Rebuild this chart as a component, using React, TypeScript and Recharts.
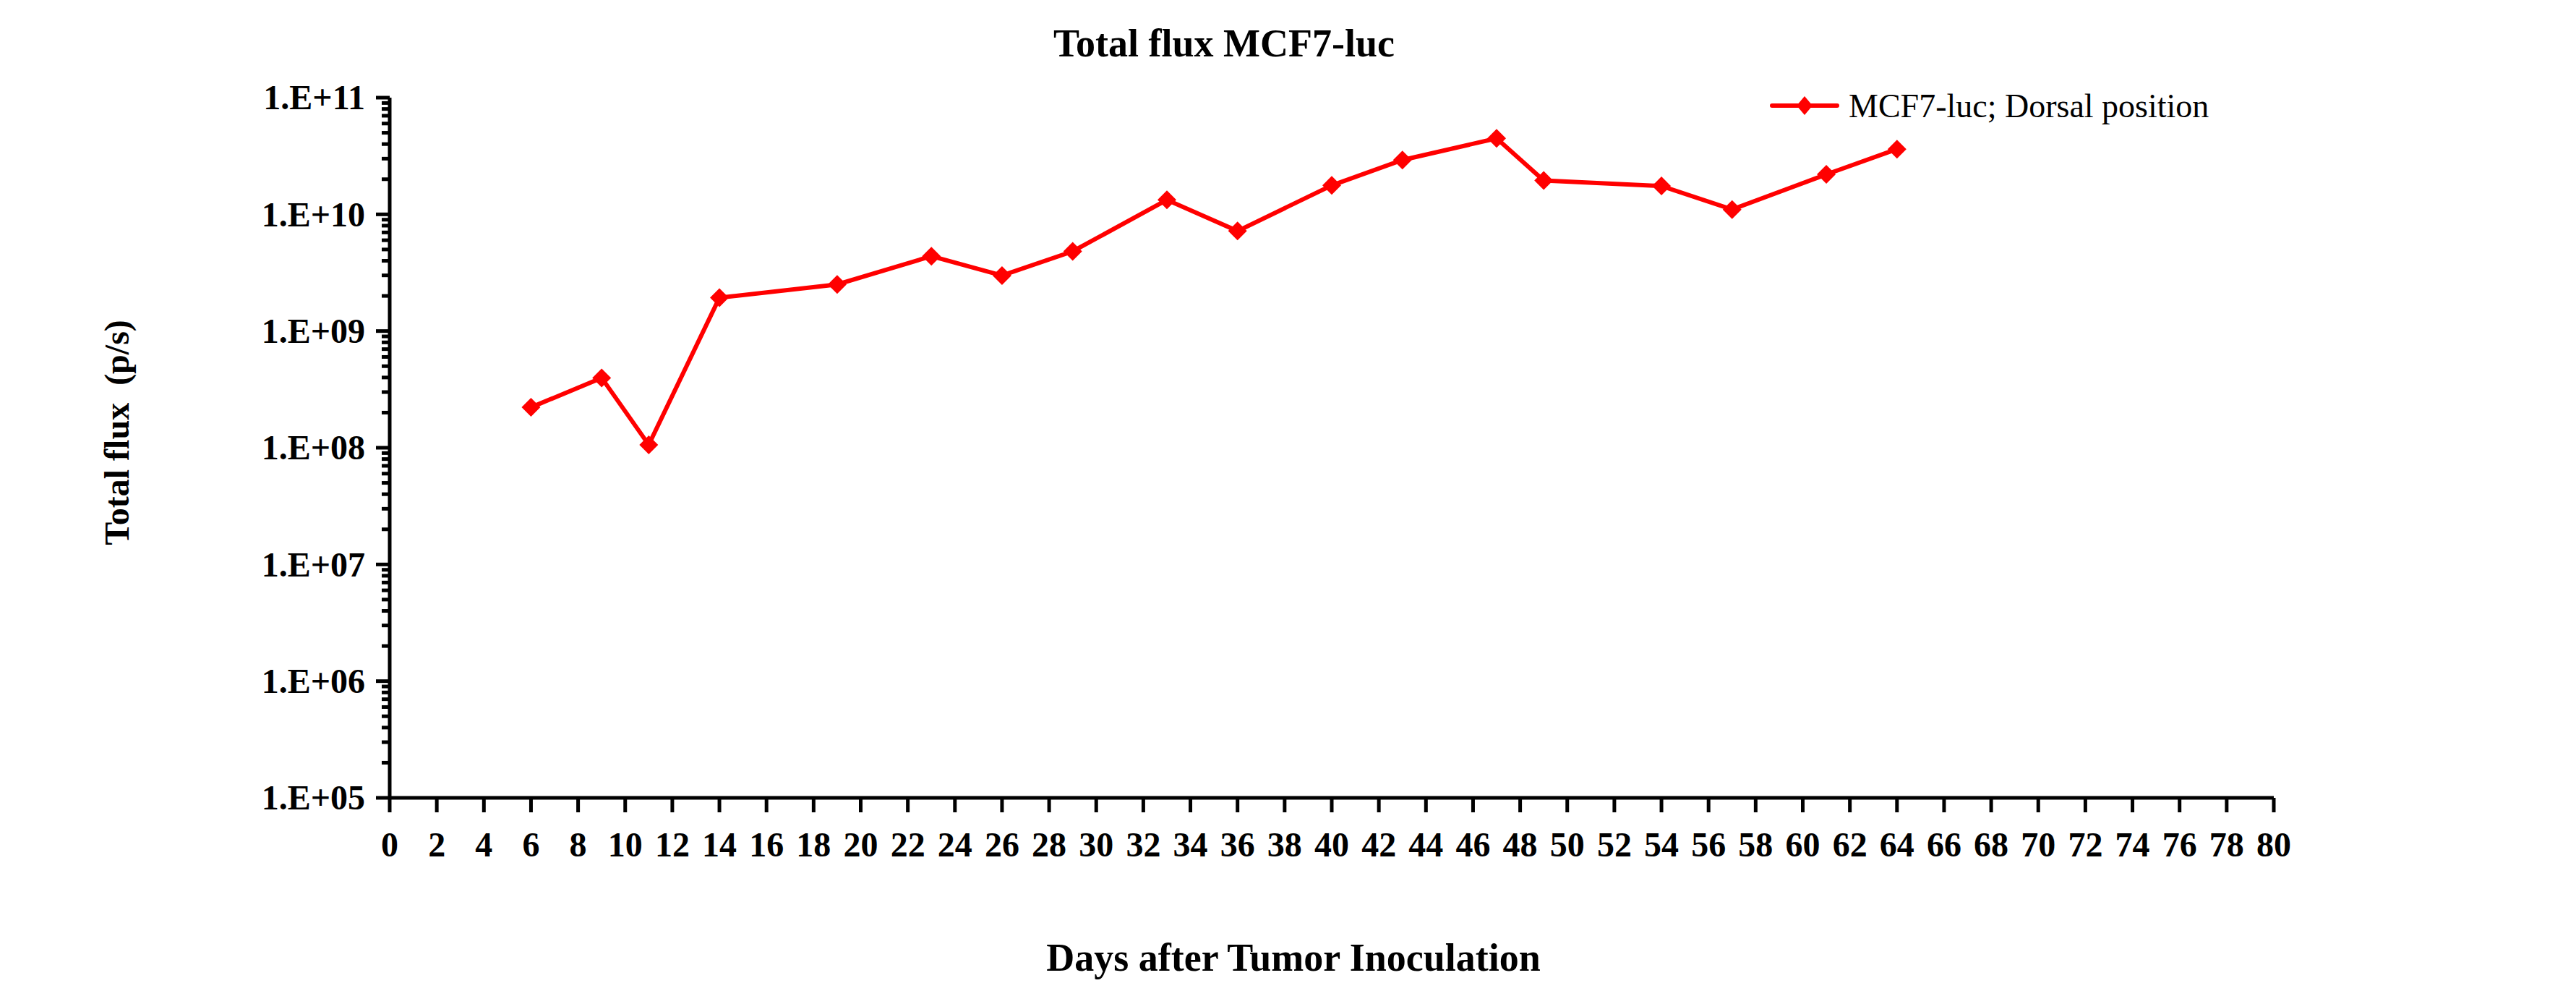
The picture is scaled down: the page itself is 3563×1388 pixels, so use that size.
import React from 'react';
import { LineChart, Line, XAxis, YAxis, Legend } from 'recharts';

const days = [6, 9, 11, 14, 19, 23, 26, 29, 33, 36, 40, 43, 47, 49, 54, 57, 61, 64];
const flux = [
  2.22e8, 3.97e8, 1.06e8, 1.93e9, 2.51e9, 4.38e9, 2.99e9, 4.82e9, 1.33e10,
  7.2e9, 1.77e10, 2.92e10, 4.48e10, 1.95e10, 1.75e10, 1.1e10, 2.2e10, 3.62e10,
];
const xTicks = [0, 2, 4, 6, 8, 10, 12, 14, 16, 18, 20, 22, 24, 26, 28, 30, 32, 34, 36, 38, 40, 42, 44, 46, 48, 50, 52, 54, 56, 58, 60, 62, 64, 66, 68, 70, 72, 74, 76, 78, 80];
const yExponents = [5, 6, 7, 8, 9, 10, 11];
const minorMultipliers = [2, 3, 4, 5, 6, 7, 8, 9];

const seriesName = 'MCF7-luc; Dorsal position';
const title = 'Total flux MCF7-luc';
const xTitle = 'Days after Tumor Inoculation';
const yTitle = 'Total flux  (p/s)';

const data = days.map((d, i) => ({ day: d, flux: flux[i] }));

const yMajor = yExponents.map((e) => Math.pow(10, e));
const yMinor: number[] = [];
yExponents.slice(0, -1).forEach((e) => {
  minorMultipliers.forEach((m) => yMinor.push(m * Math.pow(10, e)));
});
const yTicks = [...yMajor, ...yMinor].sort((a, b) => a - b);

const FONT = '"Liberation Serif", "Times New Roman", serif';
const RED = '#FF0000';

const isMajor = (v: number) => {
  const l = Math.log10(v);
  return Math.abs(l - Math.round(l)) < 1e-9;
};

const fmt = (v: number) => {
  const e = Math.round(Math.log10(v));
  return '1.E+' + (e < 10 ? '0' + e : String(e));
};

const YTick = (props: any) => {
  const { x, y, payload } = props;
  const major = isMajor(payload.value);
  const len = major ? 19 : 11;
  return (
    <g>
      <line x1={x - len} y1={y} x2={x} y2={y} stroke="#000" strokeWidth={5} />
      {major && (
        <text
          x={x - 34}
          y={y}
          dy="0.34em"
          textAnchor="end"
          fontFamily={FONT}
          fontWeight="bold"
          fontSize={48}
          fill="#000"
        >
          {fmt(payload.value)}
        </text>
      )}
    </g>
  );
};

const XTick = (props: any) => {
  const { x, y, payload } = props;
  return (
    <text
      x={x}
      y={y + 61}
      textAnchor="middle"
      fontFamily={FONT}
      fontWeight="bold"
      fontSize={48}
      fill="#000"
    >
      {payload.value}
    </text>
  );
};

const diamondPath = (cx: number, cy: number, hw: number, hh: number) =>
  `M${cx},${cy - hh} L${cx + hw},${cy} L${cx},${cy + hh} L${cx - hw},${cy} Z`;

const Diamond = (props: any) => {
  const { cx, cy, index } = props;
  if (cx == null || cy == null) return <g key={index} />;
  return <path key={index} d={diamondPath(cx, cy, 13, 13)} fill={RED} />;
};

const LegendBox = () => (
  <svg width={700} height={60} style={{ display: 'block', overflow: 'visible' }}>
    <line x1={3} y1={26} x2={93} y2={26} stroke={RED} strokeWidth={6} strokeLinecap="round" />
    <path d={diamondPath(48, 26, 11, 13)} fill={RED} />
    <text x={109} y={42} fontFamily={FONT} fontSize={46} fill="#000">
      {seriesName}
    </text>
  </svg>
);

export default function App() {
  return (
    <div style={{ position: 'relative', width: 3547, height: 1372, background: '#fff' }}>
      <LineChart
        width={3547}
        height={1372}
        data={data}
        margin={{ top: 127, right: 410, bottom: 177, left: 331 }}
      >
        <XAxis
          dataKey="day"
          type="number"
          domain={[0, 80]}
          ticks={xTicks}
          interval={0}
          height={100}
          tickSize={20}
          tickMargin={0}
          axisLine={{ stroke: '#000', strokeWidth: 5 }}
          tickLine={{ stroke: '#000', strokeWidth: 5 }}
          tick={<XTick />}
        />
        <YAxis
          type="number"
          scale="log"
          domain={[1e5, 1e11]}
          ticks={yTicks}
          interval={0}
          width={200}
          tickSize={0}
          tickMargin={0}
          axisLine={{ stroke: '#000', strokeWidth: 5 }}
          tickLine={false}
          tick={<YTick />}
        />
        <Legend
          layout="horizontal"
          verticalAlign="middle"
          align="center"
          wrapperStyle={{ position: 'absolute', left: 2440, top: 112, width: 700, height: 60 }}
          content={() => <LegendBox />}
        />
        <Line
          type="linear"
          dataKey="flux"
          name={seriesName}
          stroke={RED}
          strokeWidth={6}
          dot={<Diamond />}
          activeDot={false}
          isAnimationActive={false}
        />
        <text
          x={1685}
          y={70}
          textAnchor="middle"
          fontFamily={FONT}
          fontWeight="bold"
          fontSize={54}
          fill="#000"
        >
          {title}
        </text>
        <text
          x={1781}
          y={1334}
          textAnchor="middle"
          fontFamily={FONT}
          fontWeight="bold"
          fontSize={54}
          fill="#000"
        >
          {xTitle}
        </text>
        <text
          x={170}
          y={590}
          textAnchor="middle"
          transform="rotate(-90 170 590)"
          fontFamily={FONT}
          fontWeight="bold"
          fontSize={48}
          fill="#000"
          style={{ whiteSpace: 'pre' }}
        >
          {yTitle}
        </text>
      </LineChart>
    </div>
  );
}
